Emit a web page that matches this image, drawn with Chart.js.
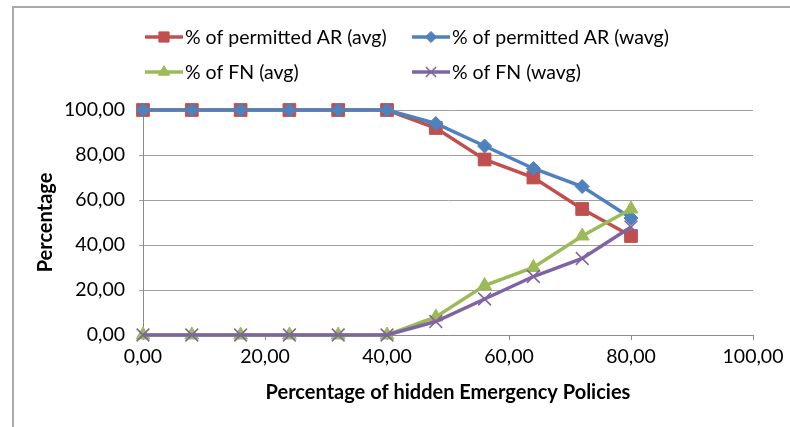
<!DOCTYPE html>
<html>
<head>
<meta charset="utf-8">
<script src="https://cdn.jsdelivr.net/npm/chart.js@4.4.0/dist/chart.umd.min.js"></script>
<style>
  html, body { margin: 0; padding: 0; background: #fff; overflow: hidden; }
  #frame { position: absolute; left: 12px; top: 6px; width: 800px; height: 450px;
           border-top: 2px solid #aaaaaa; border-left: 2px solid #aaaaaa; }
  #wrap { position: absolute; left: 0; top: 0; width: 790px; height: 427px; }
</style>
</head>
<body>
<div id="frame"></div>
<div id="wrap"><canvas id="policyChart" width="790" height="427"></canvas></div>
<script>
// x = % of hidden emergency policies
const hiddenPct = [0, 8, 16, 24, 32, 40, 48, 56, 64, 72, 80];

const permittedAvg  = [100, 100, 100, 100, 100, 100, 92, 78, 70, 56, 44];
const permittedWavg = [100, 100, 100, 100, 100, 100, 94, 84, 74, 66, 52];
const fnAvg         = [0, 0, 0, 0, 0, 0, 8, 22, 30, 44, 56];
const fnWavg        = [0, 0, 0, 0, 0, 0, 6, 16, 26, 34, 48];

const seriesLabels = [
  '% of permitted AR (avg)',
  '% of permitted AR (wavg)',
  '% of FN (avg)',
  '% of FN (wavg)'
];

const FONT = 'Lato, "Open Sans", sans-serif';
const FS = 19.5;

const toPoints = vals => vals.map((v, i) => ({ x: hiddenPct[i], y: v }));
const fmt = v => Number(v).toFixed(2).replace('.', ',');

function series(label, vals, color, style, radius, order) {
  return {
    label: label,
    data: toPoints(vals),
    borderColor: color,
    backgroundColor: color,
    borderWidth: 3.5,
    pointStyle: style,
    pointRadius: radius,
    pointHoverRadius: radius,
    pointBackgroundColor: color,
    pointBorderColor: color,
    pointBorderWidth: style === 'crossRot' ? 1.5 : 1,
    tension: 0,
    clip: false,
    order: order
  };
}

// legend laid out as a 2x2 grid like the original
const legendCols = [145, 412];
const legendRows = [37, 72];
const gridLegend = {
  id: 'gridLegend',
  afterDraw(chart) {
    const ctx = chart.ctx;
    chart.data.datasets.forEach((ds, i) => {
      const x = legendCols[i % 2];
      const y = legendRows[Math.floor(i / 2)];
      ctx.save();
      ctx.strokeStyle = ds.borderColor;
      ctx.lineWidth = ds.borderWidth;
      ctx.beginPath();
      ctx.moveTo(x, y);
      ctx.lineTo(x + 38, y);
      ctx.stroke();
      ctx.fillStyle = ds.pointBackgroundColor;
      ctx.strokeStyle = ds.pointBorderColor;
      ctx.lineWidth = ds.pointBorderWidth;
      Chart.helpers.drawPoint(ctx, {
        pointStyle: ds.pointStyle,
        radius: ds.pointRadius * 0.8,
        borderWidth: ds.pointBorderWidth,
        rotation: 0
      }, x + 19, y);
      ctx.fillStyle = '#000';
      ctx.font = FS + 'px ' + FONT;
      ctx.textBaseline = 'middle';
      ctx.textAlign = 'left';
      ctx.fillText(ds.label, x + 40, y + 1);
      ctx.restore();
    });
  }
};

new Chart(document.getElementById('policyChart').getContext('2d'), {
  type: 'line',
  data: {
    datasets: [
      series(seriesLabels[0], permittedAvg,  '#C0504D', 'rect',     9, 4),
      series(seriesLabels[1], permittedWavg, '#4F81BD', 'rectRot',  7, 3),
      series(seriesLabels[2], fnAvg,         '#9BBB59', 'triangle', 8, 2),
      series(seriesLabels[3], fnWavg,        '#8064A2', 'crossRot', 9, 1)
    ]
  },
  options: {
    responsive: false,
    animation: false,
    layout: { padding: { left: 30, top: 110, right: 37, bottom: 18 } },
    plugins: {
      legend: { display: false },
      tooltip: { enabled: false }
    },
    scales: {
      x: {
        type: 'linear',
        min: 0,
        max: 100,
        ticks: { stepSize: 20, callback: fmt, color: '#000', padding: 5,
                 font: { family: FONT, size: FS }, maxRotation: 0 },
        grid: { drawOnChartArea: false, drawTicks: true, tickLength: 5, color: '#8a8a8a' },
        border: { color: '#8a8a8a', width: 1 },
        title: { display: true, text: 'Percentage of hidden Emergency Policies', color: '#000',
                 font: { family: FONT, size: 20, weight: 'bold' }, padding: { top: 4, bottom: 4 } },
        afterFit: s => { s.height = 74; }
      },
      y: {
        min: 0,
        max: 100,
        ticks: { stepSize: 20, callback: fmt, color: '#000', padding: 14,
                 font: { family: FONT, size: FS } },
        grid: { drawTicks: true, tickLength: 4, color: '#a0a0a0', lineWidth: 1 },
        border: { color: '#8a8a8a', width: 1 },
        title: { display: true, text: 'Percentage', color: '#000',
                 font: { family: FONT, size: 20, weight: 'bold' }, padding: { top: 4, bottom: 4 } },
        afterFit: s => { s.width = 113; }
      }
    }
  },
  plugins: [gridLegend]
});
</script>
</body>
</html>
